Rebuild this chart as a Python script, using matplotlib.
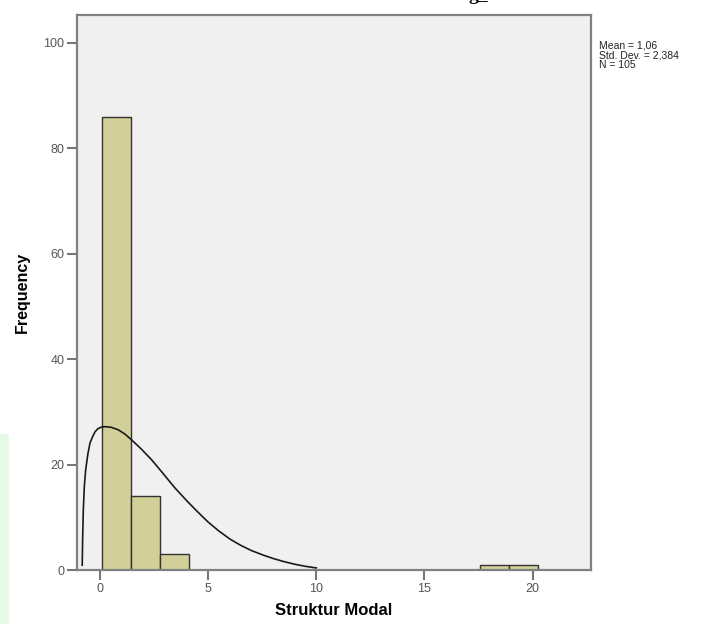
import numpy as np
import matplotlib.pyplot as plt

# histogram data (SPSS style), 15 bins
bin_start = 0.08
bin_width = 1.344
counts = [86, 14, 3, 0, 0, 0, 0, 0, 0, 0, 0, 0, 0, 1, 1]

# fitted curve
curve_x = [-0.82, -0.80, -0.77, -0.72, -0.66, -0.56, -0.46, -0.34, -0.23, -0.1, 0.05, 0.23, 0.5,
           0.85, 1.15, 1.46, 1.9, 2.39, 2.9, 3.46, 4.0, 4.5, 5.0, 5.5, 6.0,
           6.5, 7.0, 7.5, 8.0, 8.5, 9.0, 9.5, 10.0]
curve_y = [0.9, 6.0, 11.4, 16.0, 19.0, 22.0, 24.1, 25.3, 26.2, 26.8, 27.1, 27.2, 27.1,
           26.6, 25.8, 24.7, 23.0, 20.9, 18.4, 15.6, 13.2, 11.1, 9.1, 7.4, 5.9,
           4.7, 3.7, 2.9, 2.2, 1.6, 1.1, 0.7, 0.4]

xticks = [0, 5, 10, 15, 20]
yticks = [0, 20, 40, 60, 80, 100]
stats = "Mean = 1,06\nStd. Dev. = 2,384\nN = 105"

plt.rcParams['font.family'] = ['Liberation Sans', 'DejaVu Sans']

fig = plt.figure(figsize=(7.08, 6.24), dpi=100)
ax = fig.add_axes([0.1088, 0.0865, 0.7259, 0.8895])
ax.set_facecolor('#f0f0f0')

lefts = [bin_start + i * bin_width for i in range(len(counts))]
ax.bar(lefts, counts, width=bin_width, align='edge', color='#d3cf98',
       edgecolor='#333333', linewidth=1.0, zorder=2)
ax.plot(curve_x, curve_y, color='#1a1a1a', linewidth=1.2, zorder=3)

ax.set_xlim(-1.06, 22.7)
ax.set_ylim(0, 105.3)
ax.set_xticks(xticks)
ax.set_yticks(yticks)
ax.tick_params(direction='out', length=7, width=1.5, color='#777777',
               labelsize=9, labelcolor='#555555', pad=2)
for s in ax.spines.values():
    s.set_color('#808080')
    s.set_linewidth(1.6)

ax.set_xlabel('Struktur Modal', fontsize=12, fontweight='bold', labelpad=6)
ax.set_ylabel('Frequency', fontsize=11.5, fontweight='bold', labelpad=10)

fig.text(599 / 708, 1 - 40 / 624, stats, fontsize=7.5, va='top', ha='left',
         linespacing=1.0, color='#222222')

# cut-off title at the very top of the picture
fig.text(478 / 708, 1.0, 'g_', fontsize=14, fontweight='bold',
         family='Liberation Serif', ha='center', va='baseline')

# faint green watermark on the left
fig.patches.append(plt.Rectangle((0, 0), 8 / 708, 190 / 624, transform=fig.transFigure,
                                 color='#e6fbe6', zorder=0))

fig.savefig('out.png', dpi=100)
